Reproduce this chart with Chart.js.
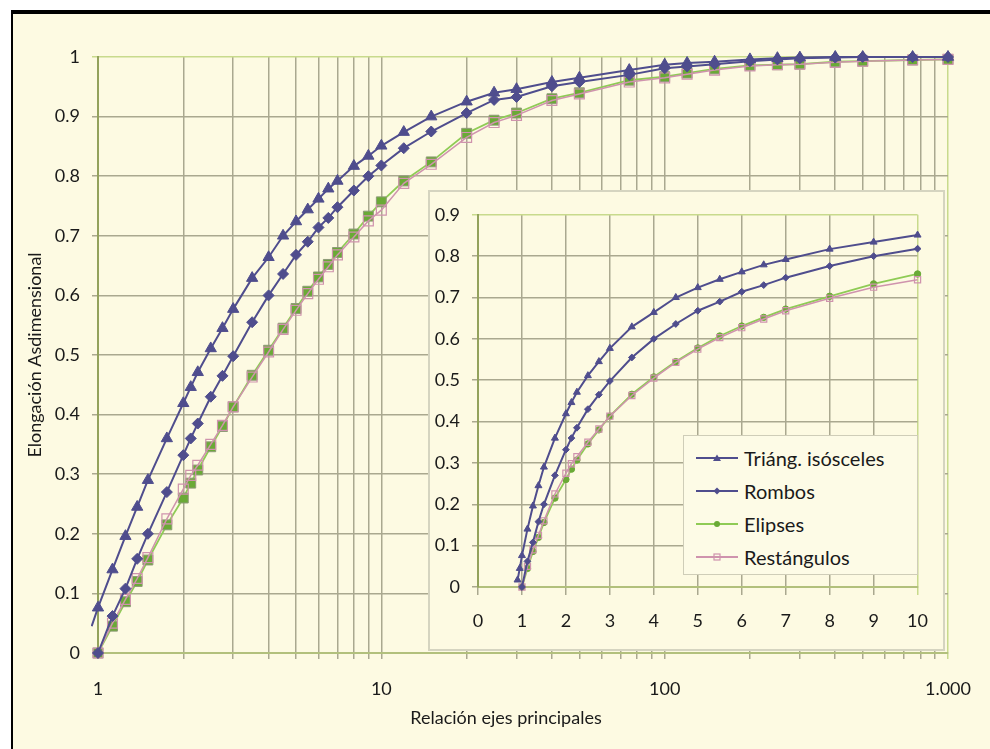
<!DOCTYPE html>
<html lang="es">
<head>
<meta charset="utf-8">
<title>Elongación adimensional</title>
<script src="https://cdn.jsdelivr.net/npm/chart.js@4.4.1/dist/chart.umd.min.js"></script>
<style>
  html, body { margin: 0; padding: 0; background: #fff; }
  body { width: 990px; height: 749px; position: relative; overflow: hidden; font-family: Lato, "Open Sans", sans-serif; }
  #frame { position: absolute; left: 11px; top: 10px; width: 990px; height: 760px; background: #fdfae2;
           border-top: 4px solid #000; border-left: 2px solid #000; }
  #main { position: absolute; left: 0; top: 0; }
  #insetBox { position: absolute; left: 428px; top: 190px; width: 513px; height: 457px;
              border: 2px solid #d5d4c0; background: #fdfae2; }
  #inset { position: absolute; left: 0; top: 0; }
  #legend { position: absolute; left: 683px; top: 435px; width: 235px; height: 140px;
            border: 1.5px solid #cfcdb8; background: #fdfbe6; padding-top: 5px; box-sizing: border-box; }
  .item { height: 33px; display: flex; align-items: center; padding-left: 12px; font-size: 20px; color: #1a1a1a; }
  .item svg { margin-right: 6px; }
  #xTitle { position: absolute; left: 356px; width: 300px; top: 706px; text-align: center; font-size: 18px; color: #1a1a1a; }
</style>
</head>
<body>
<div id="frame"></div>
<canvas id="main" width="990" height="749"></canvas>
<div id="insetBox"><canvas id="inset" width="513" height="457"></canvas></div>
<div id="legend"></div>
<div id="xTitle">Relación ejes principales</div>
<script>
// Datos (relación de ejes -> elongación adimensional)
const xs = [1, 1.125, 1.25, 1.375, 1.5, 1.75, 2, 2.125, 2.25, 2.5, 2.75, 3, 3.5, 4, 4.5, 5, 5.5, 6, 6.5, 7,
            8, 9, 10, 12, 15, 20, 25, 30, 40, 50, 75, 100, 120, 150, 200, 250, 300, 400, 500, 750, 1000];
const triX = [0.9, 0.95, ...xs];

const triY = [0.017, 0.045, 0.076, 0.14, 0.196, 0.245, 0.29, 0.36, 0.419, 0.446, 0.471, 0.511, 0.545, 0.577,
              0.629, 0.664, 0.7, 0.724, 0.744, 0.762, 0.779, 0.792, 0.817, 0.834, 0.851, 0.874, 0.9, 0.925,
              0.94, 0.946, 0.958, 0.965, 0.978, 0.987, 0.99, 0.992, 0.996, 0.998, 0.999, 1, 1, 1, 1];
const romY = [0, 0.062, 0.108, 0.158, 0.2, 0.27, 0.332, 0.36, 0.385, 0.43, 0.465, 0.498, 0.555, 0.6, 0.636,
              0.668, 0.69, 0.714, 0.73, 0.748, 0.776, 0.8, 0.818, 0.847, 0.875, 0.906, 0.928, 0.933, 0.951,
              0.958, 0.97, 0.981, 0.984, 0.988, 0.993, 0.996, 0.998, 0.999, 1, 1, 1];
const eliY = [0, 0.045, 0.086, 0.12, 0.156, 0.215, 0.26, 0.285, 0.307, 0.346, 0.38, 0.413, 0.466, 0.508, 0.545,
              0.578, 0.607, 0.631, 0.652, 0.672, 0.703, 0.733, 0.757, 0.792, 0.824, 0.872, 0.894, 0.906, 0.93,
              0.94, 0.961, 0.967, 0.973, 0.98, 0.986, 0.987, 0.988, 0.992, 0.993, 0.995, 0.996];
const resY = [0, 0.05, 0.09, 0.125, 0.16, 0.225, 0.275, 0.298, 0.315, 0.35, 0.382, 0.413, 0.463, 0.505, 0.543,
              0.575, 0.603, 0.627, 0.648, 0.668, 0.698, 0.725, 0.743, 0.788, 0.82, 0.865, 0.89, 0.902, 0.927,
              0.938, 0.958, 0.965, 0.971, 0.978, 0.985, 0.987, 0.988, 0.991, 0.993, 0.995, 0.996];

const seriesNames = ['Triáng. isósceles', 'Rombos', 'Elipses', 'Restángulos'];
const xTickValues = [1, 10, 100, 1000];
const xTickLabels = ['1', '10', '100', '1.000'];
const insetMaxX = 10;

const DARK = '#4f4d8d';
const GREEN_LINE = '#8fcb55';
const GREEN_PT = '#6aaa36';
const PINK = '#cf93ad';
const GRID = '#aaa88f';
const EDGE = '#c8da8c';
const AXIS = '#93a25c';
const FONT = 'Lato, "Open Sans", sans-serif';

function pts(xArr, yArr, maxX) {
    const out = [];
    xArr.forEach((x, i) => { if (maxX === undefined || x <= maxX) out.push({ x: x, y: yArr[i] }); });
    return out;
}

function makeDatasets(maxX, small) {
    const k = small ? 0.62 : 1;
    const clip = { left: 7, top: 12, right: 12, bottom: 12 };
    return [
        { label: seriesNames[0], data: pts(triX, triY, maxX), borderColor: DARK, backgroundColor: DARK,
          borderWidth: 2, pointStyle: 'triangle', pointBorderWidth: 1, order: 2, clip: clip,
          pointRadius: c => (!small && c.raw && c.raw.x < 1) ? 0 : 6.5 * k },
        { label: seriesNames[1], data: pts(xs, romY, maxX), borderColor: DARK, backgroundColor: DARK,
          borderWidth: 2, pointStyle: 'rectRot', pointRadius: 5.5 * k, pointBorderWidth: 1, order: 1, clip: clip },
        { label: seriesNames[2], data: pts(xs, eliY, maxX), borderColor: GREEN_LINE, backgroundColor: GREEN_PT,
          pointBorderColor: small ? GREEN_PT : '#8f9a78', borderWidth: 1.8,
          pointStyle: small ? 'circle' : 'rect', pointRadius: small ? 3.2 : 7, pointBorderWidth: 1, order: 4, clip: clip },
        { label: seriesNames[3], data: pts(xs, resY, maxX), borderColor: PINK, backgroundColor: 'rgba(0,0,0,0)',
          pointBorderColor: PINK, borderWidth: 1.5, pointStyle: 'rect', pointRadius: 7 * k,
          pointBorderWidth: 1.2, order: 3, clip: clip }
    ];
}

const tickFont = { family: FONT, size: 18 };

// Gráfico principal (eje x logarítmico)
new Chart(document.getElementById('main'), {
    type: 'line',
    data: { datasets: makeDatasets() },
    options: {
        responsive: false,
        animation: false,
        layout: { padding: { top: 57, right: 34, left: 0, bottom: 0 } },
        plugins: { legend: { display: false }, tooltip: { enabled: false } },
        scales: {
            x: {
                type: 'logarithmic', min: 1, max: 1000,
                afterFit: s => { s.height = 96; },
                afterBuildTicks: s => {
                    const t = [];
                    [1, 10, 100].forEach(d => { for (let m = 1; m < 10; m++) t.push({ value: m * d }); });
                    t.push({ value: 1000 });
                    s.ticks = t;
                },
                ticks: {
                    autoSkip: false, maxRotation: 0, padding: 19, color: '#1a1a1a', font: tickFont,
                    callback: v => { const i = xTickValues.indexOf(v); return i >= 0 ? xTickLabels[i] : ''; }
                },
                grid: { color: c => (c.tick && c.tick.value === 1000) ? EDGE : GRID, lineWidth: 1.5, tickLength: 6 },
                border: { color: '#b2c07c', width: 2 }
            },
            y: {
                min: 0, max: 1,
                afterFit: s => { s.width = 98; },
                ticks: { stepSize: 0.1, padding: 12, color: '#1a1a1a', font: tickFont,
                         callback: v => String(Math.round(v * 10) / 10) },
                grid: { color: c => (c.tick && Math.abs(c.tick.value - 1) < 1e-9) ? EDGE : GRID, lineWidth: 1.5, tickLength: 6 },
                border: { color: AXIS, width: 2 },
                title: { display: true, text: 'Elongación Asdimensional', color: '#1a1a1a',
                         font: { family: FONT, size: 18 }, padding: { top: 24, bottom: 0 } }
            }
        }
    }
});

// Gráfico interior (eje x lineal 0-10)
new Chart(document.getElementById('inset'), {
    type: 'line',
    data: { datasets: makeDatasets(insetMaxX, true) },
    options: {
        responsive: false,
        animation: false,
        layout: { padding: { top: 17, right: 15, left: 0, bottom: 0 } },
        plugins: { legend: { display: false }, tooltip: { enabled: false } },
        scales: {
            x: {
                type: 'linear', min: 0, max: insetMaxX,
                afterFit: s => { s.height = 62; },
                ticks: { stepSize: 1, padding: 15, color: '#1a1a1a', font: tickFont, maxRotation: 0 },
                grid: { color: c => (c.tick && c.tick.value === insetMaxX) ? EDGE : GRID, lineWidth: 1.5, tickLength: 8 },
                border: { color: '#b2c07c', width: 2 }
            },
            y: {
                min: 0, max: 0.9,
                afterFit: s => { s.width = 48; },
                ticks: { stepSize: 0.1, padding: 12, color: '#1a1a1a', font: tickFont,
                         callback: v => String(Math.round(v * 10) / 10) },
                grid: { color: c => (c.tick && Math.abs(c.tick.value - 0.9) < 1e-9) ? EDGE : GRID, lineWidth: 1.5, tickLength: 6 },
                border: { color: AXIS, width: 2 }
            }
        }
    }
});

// Leyenda
const legendMarks = [
    '<path d="M21 1.5 L25 8 L17 8 Z" fill="' + DARK + '"/>',
    '<path d="M21 1.5 L24.5 5 L21 8.5 L17.5 5 Z" fill="' + DARK + '"/>',
    '<circle cx="21" cy="5" r="3" fill="' + GREEN_PT + '"/>',
    '<rect x="18" y="2" width="6" height="6" fill="none" stroke="' + PINK + '" stroke-width="1.2"/>'
];
const legendColors = [DARK, DARK, GREEN_LINE, PINK];
document.getElementById('legend').innerHTML = seriesNames.map((name, i) =>
    '<div class="item"><svg width="42" height="10"><line x1="0" y1="5" x2="42" y2="5" stroke="' +
    legendColors[i] + '" stroke-width="2"/>' + legendMarks[i] + '</svg>' + name + '</div>').join('');
</script>
</body>
</html>
